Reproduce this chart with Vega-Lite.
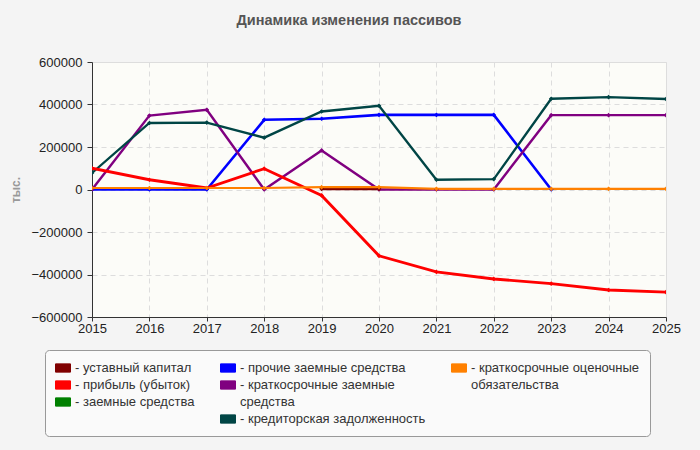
{
  "$schema": "https://vega.github.io/schema/vega-lite/v6.json",
  "width": 574,
  "height": 255,
  "autosize": {"type": "none"},
  "padding": {"left": 92, "top": 62, "right": 34, "bottom": 133},
  "background": "#f4f4f4",
  "title": {
    "text": "Динамика изменения пассивов",
    "font": "Liberation Sans",
    "fontSize": 14.5,
    "fontWeight": "bold",
    "color": "#555555",
    "anchor": "middle",
    "frame": "group",
    "dx": -30,
    "offset": 28
  },
  "config": {
    "view": {"fill": "#fcfcf8", "stroke": "#dddddd"},
    "font": "Liberation Sans"
  },
  "data": {
    "values": [
      {"series": "прочие заемные средства", "year": 2015, "value": 0},
      {"series": "прочие заемные средства", "year": 2016, "value": 0},
      {"series": "прочие заемные средства", "year": 2017, "value": 0},
      {"series": "прочие заемные средства", "year": 2018, "value": 328000},
      {"series": "прочие заемные средства", "year": 2019, "value": 333000},
      {"series": "прочие заемные средства", "year": 2020, "value": 351000},
      {"series": "прочие заемные средства", "year": 2021, "value": 351000},
      {"series": "прочие заемные средства", "year": 2022, "value": 351000},
      {"series": "прочие заемные средства", "year": 2023, "value": 0},
      {"series": "краткосрочные заемные средства", "year": 2015, "value": 0},
      {"series": "краткосрочные заемные средства", "year": 2016, "value": 348000},
      {"series": "краткосрочные заемные средства", "year": 2017, "value": 375000},
      {"series": "краткосрочные заемные средства", "year": 2018, "value": 0},
      {"series": "краткосрочные заемные средства", "year": 2019, "value": 184000},
      {"series": "краткосрочные заемные средства", "year": 2020, "value": 0},
      {"series": "краткосрочные заемные средства", "year": 2021, "value": 0},
      {"series": "краткосрочные заемные средства", "year": 2022, "value": 0},
      {"series": "краткосрочные заемные средства", "year": 2023, "value": 350000},
      {"series": "краткосрочные заемные средства", "year": 2024, "value": 350000},
      {"series": "краткосрочные заемные средства", "year": 2025, "value": 350000},
      {"series": "кредиторская задолженность", "year": 2015, "value": 78000},
      {"series": "кредиторская задолженность", "year": 2016, "value": 313000},
      {"series": "кредиторская задолженность", "year": 2017, "value": 315000},
      {"series": "кредиторская задолженность", "year": 2018, "value": 244000},
      {"series": "кредиторская задолженность", "year": 2019, "value": 367000},
      {"series": "кредиторская задолженность", "year": 2020, "value": 394000},
      {"series": "кредиторская задолженность", "year": 2021, "value": 46000},
      {"series": "кредиторская задолженность", "year": 2022, "value": 49000},
      {"series": "кредиторская задолженность", "year": 2023, "value": 427000},
      {"series": "кредиторская задолженность", "year": 2024, "value": 435000},
      {"series": "кредиторская задолженность", "year": 2025, "value": 426000},
      {"series": "прибыль (убыток)", "year": 2015, "value": 100000},
      {"series": "прибыль (убыток)", "year": 2016, "value": 46000},
      {"series": "прибыль (убыток)", "year": 2017, "value": 7000},
      {"series": "прибыль (убыток)", "year": 2018, "value": 98000},
      {"series": "прибыль (убыток)", "year": 2019, "value": -28000},
      {"series": "прибыль (убыток)", "year": 2020, "value": -312000},
      {"series": "прибыль (убыток)", "year": 2021, "value": -388000},
      {"series": "прибыль (убыток)", "year": 2022, "value": -421000},
      {"series": "прибыль (убыток)", "year": 2023, "value": -443000},
      {"series": "прибыль (убыток)", "year": 2024, "value": -473000},
      {"series": "прибыль (убыток)", "year": 2025, "value": -483000},
      {"series": "уставный капитал", "year": 2019, "value": 3000},
      {"series": "уставный капитал", "year": 2020, "value": 3000},
      {"series": "краткосрочные оценочные обязательства", "year": 2015, "value": 7000},
      {"series": "краткосрочные оценочные обязательства", "year": 2016, "value": 7000},
      {"series": "краткосрочные оценочные обязательства", "year": 2017, "value": 7000},
      {"series": "краткосрочные оценочные обязательства", "year": 2018, "value": 7000},
      {"series": "краткосрочные оценочные обязательства", "year": 2019, "value": 11000},
      {"series": "краткосрочные оценочные обязательства", "year": 2020, "value": 11000},
      {"series": "краткосрочные оценочные обязательства", "year": 2021, "value": 3000},
      {"series": "краткосрочные оценочные обязательства", "year": 2022, "value": 3000},
      {"series": "краткосрочные оценочные обязательства", "year": 2023, "value": 3000},
      {"series": "краткосрочные оценочные обязательства", "year": 2024, "value": 3000},
      {"series": "краткосрочные оценочные обязательства", "year": 2025, "value": 3000}
    ]
  },
  "mark": {
    "type": "line",
    "point": {"shape": "diamond", "size": 22, "filled": true, "opacity": 1},
    "clip": true
  },
  "encoding": {
    "x": {
      "field": "year",
      "type": "quantitative",
      "scale": {"domain": [2015, 2025], "nice": false, "zero": false},
      "axis": {
        "title": null,
        "values": [2015, 2016, 2017, 2018, 2019, 2020, 2021, 2022, 2023, 2024, 2025],
        "format": "d",
        "labelFontSize": 13,
        "labelColor": "#222222",
        "labelPadding": 1,
        "labelFlush": false,
        "tickSize": 4,
        "tickColor": "#333333",
        "domainColor": "#333333",
        "gridDash": [5, 4],
        "gridColor": "#dddddd"
      }
    },
    "y": {
      "field": "value",
      "type": "quantitative",
      "scale": {"domain": [-600000, 600000], "nice": false},
      "axis": {
        "title": "тыс.",
        "titleColor": "#999999",
        "titleFontSize": 12,
        "titleFontWeight": "bold",
        "titlePadding": 9,
        "values": [-600000, -400000, -200000, 0, 200000, 400000, 600000],
        "format": "d",
        "labelFontSize": 13,
        "labelColor": "#222222",
        "labelPadding": 5,
        "tickSize": 5,
        "tickColor": "#333333",
        "domainColor": "#333333",
        "gridDash": [5, 4],
        "gridColor": "#dddddd"
      }
    },
    "color": {
      "field": "series",
      "type": "nominal",
      "sort": null,
      "scale": {
        "domain": ["уставный капитал", "прибыль (убыток)", "заемные средства", "_b1", "прочие заемные средства", "краткосрочные заемные средства", "_c1", "кредиторская задолженность", "краткосрочные оценочные обязательства", "_c2", "_b2", "_b3"],
        "range": ["#800000", "#ff0000", "#008000", "transparent", "#0000ff", "#800080", "transparent", "#004545", "#ff8000", "transparent", "transparent", "transparent"]
      },
      "legend": {
        "orient": "none",
        "direction": "vertical",
        "legendX": -47,
        "legendY": 288,
        "columns": 3,
        "columnPadding": 23,
        "rowPadding": 2,
        "padding": 10,
        "fillColor": "#fafafa",
        "strokeColor": "#999999",
        "cornerRadius": 4,
        "title": null,
        "symbolType": "M-1,-0.55H1V0.55H-1Z",
        "symbolSize": 225,
        "symbolOpacity": 1,
        "labelFontSize": 13,
        "labelColor": "#333333",
        "labelOffset": 4,
        "labelLimit": 400,
        "labelExpr": "indexof(datum.value, '_b') === 0 ? '' : datum.value === '_c1' ? '\u00a0\u00a0средства' : datum.value === '_c2' ? '\u00a0\u00a0обязательства' : datum.value === 'краткосрочные заемные средства' ? '- краткосрочные заемные' : datum.value === 'краткосрочные оценочные обязательства' ? '- краткосрочные оценочные' : '- ' + datum.value",
        "encode": {
          "symbols": {
            "update": {
              "fill": {"scale": "color", "field": "value"},
              "stroke": {"signal": "indexof(datum.value, '_') === 0 ? 'transparent' : '#888888'"},
              "strokeWidth": {"value": 1},
              "opacity": {"value": 1}
            }
          }
        }
      }
    },
    "strokeWidth": {
      "field": "series",
      "type": "nominal",
      "scale": {
        "domain": ["уставный капитал", "прибыль (убыток)", "заемные средства", "прочие заемные средства", "краткосрочные заемные средства", "кредиторская задолженность", "краткосрочные оценочные обязательства"],
        "range": [3, 2.2, 2, 2, 2, 2.2, 3]
      },
      "legend": null
    }
  }
}
